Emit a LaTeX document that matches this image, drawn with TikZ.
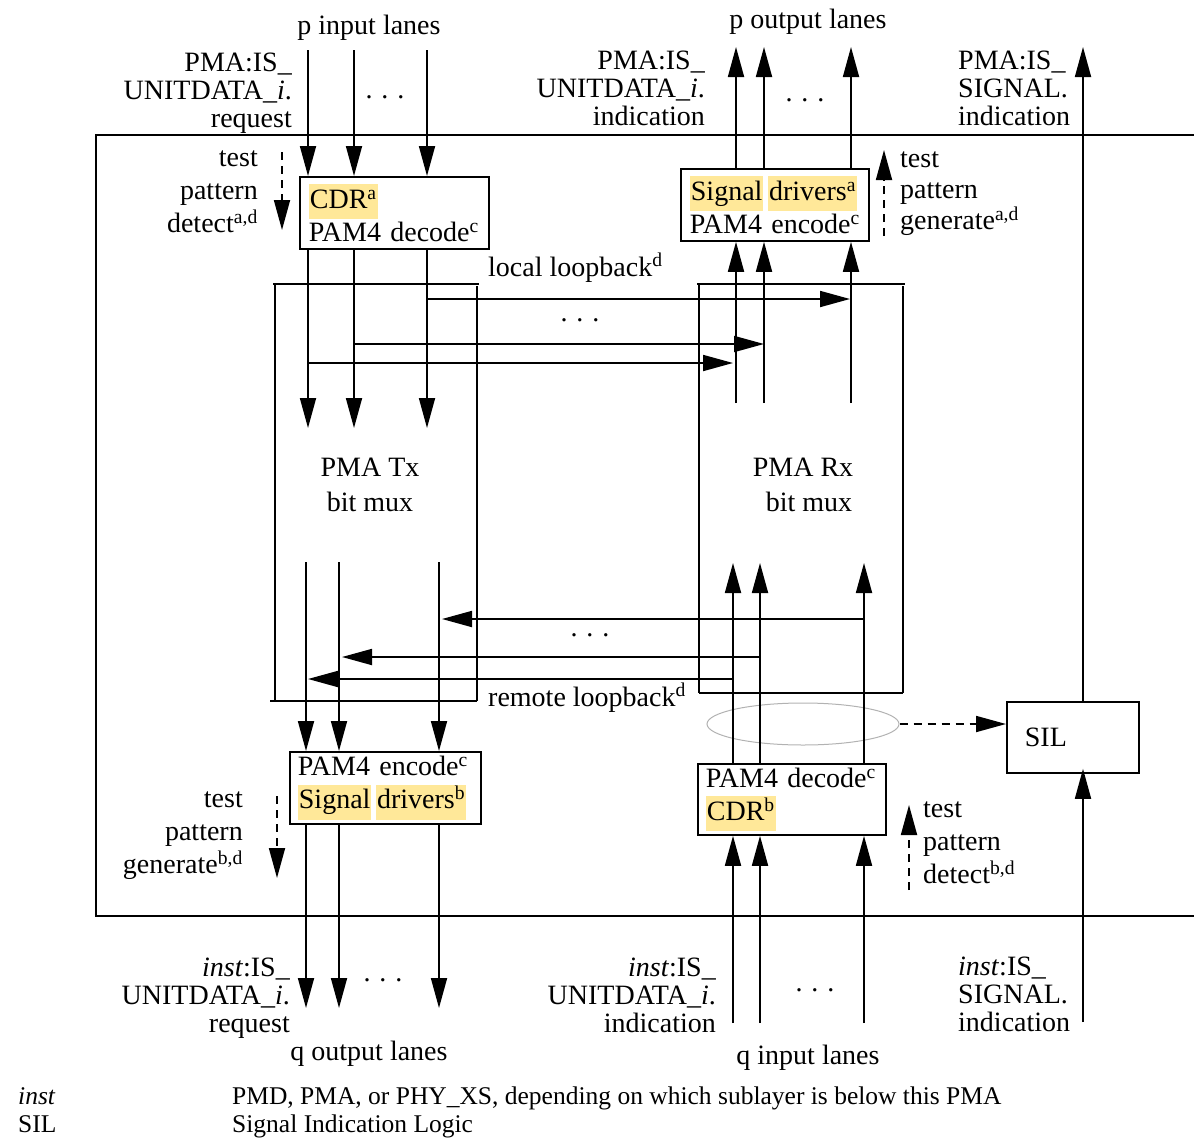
\documentclass[tikz,border=0pt]{standalone}
\usepackage{fontspec}
\setmainfont{Liberation Serif}
\usetikzlibrary{arrows.meta,shapes.geometric,calc}
\definecolor{hly}{RGB}{255,232,153}
\newcommand\hlbox[1]{{\setlength{\fboxsep}{1pt}\colorbox{hly}{\strut #1}}}
\newcommand\dotsx{.\hspace{9pt}.\hspace{9pt}.}
\begin{document}
\begin{tikzpicture}[x=1pt,y=-1pt,
  every node/.style={font=\fontsize{28}{33}\selectfont, inner sep=0pt},
  ln/.style={line width=1.6pt},
  arr/.style={line width=1.8pt, -{Triangle[length=30pt,width=16pt]}},
  darr/.style={line width=1.8pt, dash pattern=on 8pt off 6pt, -{Triangle[length=30pt,width=16pt]}},
  pbox/.style={draw, line width=1.8pt, align=left, inner xsep=9pt, inner ysep=0pt, anchor=north west},
  lblr/.style={align=right, anchor=north east, font=\fontsize{28}{28}\selectfont},
  lbll/.style={align=left, anchor=north west, font=\fontsize{28}{28}\selectfont},
  tpr/.style={align=right, anchor=north east, font=\fontsize{28}{33}\selectfont},
  tpl/.style={align=left, anchor=north west, font=\fontsize{28}{31}\selectfont},
  legend/.style={anchor=base west, font=\fontsize{25.5}{28}\selectfont}
]
\useasboundingbox (0,0) rectangle (1194,1138);

% outer PMA frame
\draw[ln] (1200,135) -- (96,135) -- (96,916) -- (1200,916);

% Tx and Rx bit mux frames
\draw[ln] (273,284) -- (479,284);
\draw[ln] (275,284) -- (275,701);
\draw[ln] (477,286) -- (477,701);
\draw[ln] (270,701) -- (477,701);
\draw[ln] (697,284) -- (905,284);
\draw[ln] (699,284) -- (699,693);
\draw[ln] (903,286) -- (903,693);
\draw[ln] (699,693) -- (903,693);

% boxes
\node[pbox, minimum width=189pt, minimum height=72pt, text width=171pt] (cdr) at (299,176)
  {\hlbox{CDR\textsuperscript{a}}\\PAM4 decode\textsuperscript{c}};
\node[pbox, minimum width=188pt, minimum height=72pt, text width=170pt] (sdrv) at (680,168)
  {\hlbox{Signal}\,\hlbox{drivers\textsuperscript{a}}\\PAM4 encode\textsuperscript{c}};
\node[pbox, minimum width=191pt, minimum height=72pt, text width=175pt, inner xsep=8pt] (enc) at (289,751)
  {PAM4 encode\textsuperscript{c}\\\hlbox{Signal}\,\hlbox{drivers\textsuperscript{b}}};
\node[pbox, minimum width=188pt, minimum height=71pt, text width=172pt, inner xsep=8pt] (dec) at (697,763)
  {PAM4 decode\textsuperscript{c}\\\hlbox{CDR\textsuperscript{b}}};
\node[pbox, minimum width=132pt, minimum height=71pt, text width=96pt, inner xsep=18pt] (sil) at (1006,701) {SIL};
\node[draw=gray!60, line width=1pt, ellipse, minimum width=192pt, minimum height=42pt] (ell) at (803,724) {};

% texts
\node[anchor=base] (pin) at (369,34) {p input lanes};
\node[anchor=base] (pout) at (808,28) {p output lanes};
\node[lblr] (lreq) at (292,53) {PMA:IS\_\\UNITDATA\_\textit{i}.\\request};
\node[lblr] (lind) at (705,51) {PMA:IS\_\\UNITDATA\_\textit{i}.\\indication};
\node[lbll] (lsig) at (958,51) {PMA:IS\_\\SIGNAL.\\indication};
\node[tpr] (tpd1) at (258,151) {test\\pattern\\detect\textsuperscript{a,d}};
\node[tpl] (tpg1) at (900,152) {test\\pattern\\generate\textsuperscript{a,d}};
\node[tpr] (tpg2) at (243,792) {test\\pattern\\generate\textsuperscript{b,d}};
\node[tpl, font=\fontsize{28}{33}\selectfont] (tpd2) at (923,802) {test\\pattern\\detect\textsuperscript{b,d}};
\node[anchor=base west] (llb) at (488,276) {local loopback\textsuperscript{d}};
\node[anchor=base west] (rlb) at (488,706) {remote loopback\textsuperscript{d}};
\node[align=center, anchor=north, font=\fontsize{28}{35}\selectfont] (tx) at (370,458) {PMA Tx\\bit mux};
\node[align=center, anchor=north, font=\fontsize{28}{35}\selectfont] (rx) at (803,458) {PMA Rx\\\hspace*{12pt}bit mux};
\node (d1) at (385,97) {\dotsx};
\node (d2) at (805,100) {\dotsx};
\node (d3) at (580,320) {\dotsx};
\node (d4) at (590,635) {\dotsx};
\node (d5) at (383,980) {\dotsx};
\node (d6) at (815,990) {\dotsx};
\node[lblr] (breq) at (290,958) {\textit{inst}:IS\_\\UNITDATA\_\textit{i}.\\request};
\node[lblr] (bind) at (716,958) {\textit{inst}:IS\_\\UNITDATA\_\textit{i}.\\indication};
\node[lbll] (bsig) at (958,957) {\textit{inst}:IS\_\\SIGNAL.\\indication};
\node[anchor=base] (qout) at (369,1060) {q output lanes};
\node[anchor=base] (qin) at (808,1064) {q input lanes};
\node[legend] (k1) at (18,1104) {\textit{inst}};
\node[legend] (v1) at (232,1104) {PMD, PMA, or PHY\_XS, depending on which sublayer is below this PMA};
\node[legend] (k2) at (18,1132) {SIL};
\node[legend] (v2) at (232,1132) {Signal Indication Logic};

% coordinates
\coordinate (pin1) at (308,50); \coordinate (pin2) at (354,50); \coordinate (pin3) at (427,50);
\coordinate (txa1) at (308,428); \coordinate (txa2) at (354,428); \coordinate (txa3) at (427,428);
\coordinate (llb1) at (733,363); \coordinate (llb2) at (764,344); \coordinate (llb3) at (850,299);
\coordinate (rxu1) at (736,403); \coordinate (rxu2) at (764,403); \coordinate (rxu3) at (851,403);
\coordinate (pout1) at (736,47); \coordinate (pout2) at (764,47); \coordinate (pout3) at (851,47);
\coordinate (txb1) at (306,562); \coordinate (txb2) at (339,562); \coordinate (txb3) at (439,562);
\coordinate (rxl1) at (733,563); \coordinate (rxl2) at (760,563); \coordinate (rxl3) at (864,563);
\coordinate (rlb1) at (308,679); \coordinate (rlb2) at (342,657); \coordinate (rlb3) at (442,619);
\coordinate (qout1) at (306,1008); \coordinate (qout2) at (339,1008); \coordinate (qout3) at (439,1008);
\coordinate (qin1) at (733,1023); \coordinate (qin2) at (760,1023); \coordinate (qin3) at (864,1023);
\coordinate (sigtop) at (1083,47); \coordinate (sigbot) at (1083,1022);

% p input lanes into CDR
\foreach \i in {1,2,3} \draw[arr] (pin\i) -- (pin\i |- cdr.north);
% CDR to Tx mux
\foreach \i in {1,2,3} \draw[arr] (cdr.south -| txa\i) -- (txa\i);
% local loopback
\draw[arr] (llb1 -| txa1) -- (llb1);
\draw[arr] (llb2 -| txa2) -- (llb2);
\draw[arr] (llb3 -| txa3) -- (llb3);
% Rx mux to signal drivers
\foreach \i in {1,2,3} \draw[arr] (rxu\i) -- (rxu\i |- sdrv.south);
% p output lanes
\foreach \i in {1,2,3} \draw[arr] (sdrv.north -| pout\i) -- (pout\i);
% Tx mux to PAM4 encode
\foreach \i in {1,2,3} \draw[arr] (txb\i) -- (txb\i |- enc.north);
% remote loopback
\draw[arr] (rlb3 -| rxl3) -- (rlb3);
\draw[arr] (rlb2 -| rxl2) -- (rlb2);
\draw[arr] (rlb1 -| rxl1) -- (rlb1);
% PAM4 decode to Rx mux
\foreach \i in {1,2,3} \draw[arr] (dec.north -| rxl\i) -- (rxl\i);
% q output lanes
\foreach \i in {1,2,3} \draw[arr] (enc.south -| qout\i) -- (qout\i);
% q input lanes
\foreach \i in {1,2,3} \draw[arr] (qin\i) -- (qin\i |- dec.south);
% SIL
\draw[arr] (sil.north -| sigtop) -- (sigtop);
\draw[arr, shorten >=-5pt] (sigbot) -- (sigbot |- sil.south);
\draw[darr] (ell.east) -- (ell.east -| sil.west);

% test pattern arrows
\coordinate (tp1a) at (282,152); \coordinate (tp1b) at (282,230);
\coordinate (tp2a) at (884,236); \coordinate (tp2b) at (884,150);
\coordinate (tp3a) at (277,796); \coordinate (tp3b) at (277,878);
\coordinate (tp4a) at (909,890); \coordinate (tp4b) at (909,805);
\draw[darr] (tp1a) -- (tp1b);
\draw[darr] (tp2a) -- (tp2b);
\draw[darr] (tp3a) -- (tp3b);
\draw[darr] (tp4a) -- (tp4b);
\end{tikzpicture}
\end{document}
